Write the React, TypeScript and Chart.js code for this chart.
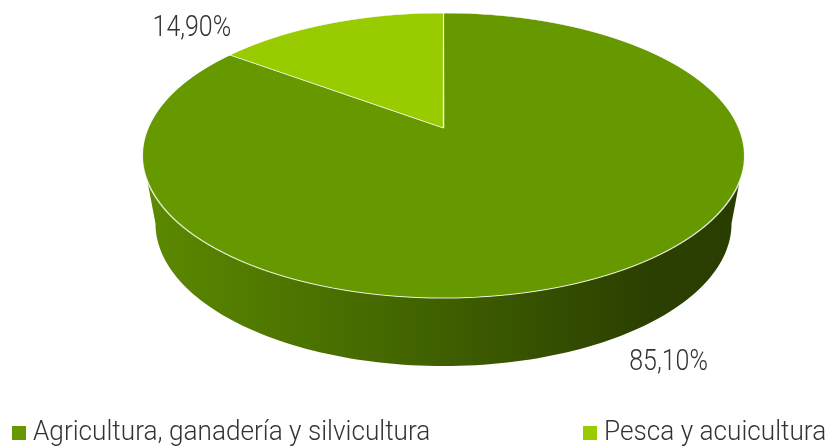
import React, { useEffect, useRef } from 'react';
import { Chart, registerables } from 'chart.js';

Chart.register(...registerables);

// ---- data ----
const categories = ['Agricultura, ganadería y silvicultura', 'Pesca y acuicultura'];
const shares = [85.1, 14.9];
const valueLabels = ['85,10%', '14,90%'];
const sliceColors = ['#669900', '#99cc00'];

// ---- perspective projection of the pie's top face ----
const CX = 443.5;
const PA = 112.5;
const PB = 128;
const PC = -0.193;
const PK = 295.3;
const DEPTH = 68;
const TAPER = 0.957;
const CONDENSE = 0.86;
const LEGEND_CONDENSE = 0.935;
const FONT = '"Roboto", "Noto Sans", sans-serif';

function proj(u: number, v: number): [number, number] {
  const d = 1 + PC * v;
  return [CX + (PK * u) / d, (PA * v + PB) / d];
}
function projBottom(u: number, v: number): [number, number] {
  const [x, y] = proj(u, v);
  return [CX + (x - CX) * TAPER, y + DEPTH];
}
function invY(Y: number) {
  return (Y - PB) / (PA - PC * Y);
}
function shade(hex: string, f: number) {
  const n = parseInt(hex.slice(1), 16);
  const r = Math.round(((n >> 16) & 255) * f);
  const g = Math.round(((n >> 8) & 255) * f);
  const b = Math.round((n & 255) * f);
  return `rgb(${r},${g},${b})`;
}

const pie3d = {
  id: 'pie3d',
  beforeDatasetsDraw(chart: any) {
    const ctx: CanvasRenderingContext2D = chart.ctx;
    const meta = chart.getDatasetMeta(0);
    const arcs = meta.data;
    const phiR = Math.asin(-PC);
    const phiL = Math.PI - phiR;
    const xl = CX - PK / Math.sqrt(1 - PC * PC);
    const xr = CX + PK / Math.sqrt(1 - PC * PC);

    // side wall
    arcs.forEach((arc: any, i: number) => {
      const s = arc.startAngle;
      const e = arc.endAngle;
      const base = sliceColors[i];
      for (let k = -1; k <= 2; k++) {
        const lo = Math.max(s, phiR + 2 * Math.PI * k);
        const hi = Math.min(e, phiL + 2 * Math.PI * k);
        if (lo >= hi) continue;
        const N = 120;
        ctx.save();
        ctx.beginPath();
        for (let j = 0; j <= N; j++) {
          const t = lo + ((hi - lo) * j) / N;
          const [x, y] = proj(Math.cos(t), Math.sin(t));
          if (j === 0) ctx.moveTo(x, y);
          else ctx.lineTo(x, y);
        }
        for (let j = N; j >= 0; j--) {
          const t = lo + ((hi - lo) * j) / N;
          const [x, y] = projBottom(Math.cos(t), Math.sin(t));
          ctx.lineTo(x, y);
        }
        ctx.closePath();
        const g = ctx.createLinearGradient(xl, 0, xr, 0);
        g.addColorStop(0, shade(base, 0.9));
        g.addColorStop(0.5, shade(base, 0.62));
        g.addColorStop(0.84, shade(base, 0.42));
        g.addColorStop(1, shade(base, 0.4));
        ctx.fillStyle = g;
        ctx.fill();
        ctx.restore();
      }
    });

    // top face, drawn row by row by the arc elements under a local transform
    const a0 = arcs[0];
    const ax = a0.x;
    const ay = a0.y;
    const r = a0.outerRadius;
    const [, yTop] = proj(0, -1);
    const [, yBot] = proj(0, 1);
    const W = chart.width;
    for (let y0 = Math.floor(yTop) - 1; y0 <= Math.ceil(yBot) + 1; y0++) {
      const Ym = y0 + 0.5;
      const vm = invY(Ym);
      const d = 1 + PC * vm;
      if (d <= 0) continue;
      const sx = PK / (r * d);
      const sy = (PA - PC * PB) / (d * d * r);
      const e = CX - sx * ax;
      const f = Ym - sy * (ay + r * vm);
      ctx.save();
      ctx.setTransform(1, 0, 0, 1, 0, 0);
      ctx.beginPath();
      ctx.rect(0, y0, W, 1);
      ctx.clip();
      ctx.setTransform(sx, 0, 0, sy, e, f);
      arcs.forEach((arc: any) => arc.draw(ctx));
      ctx.restore();
    }
    return false;
  },
  afterDraw(chart: any) {
    const ctx: CanvasRenderingContext2D = chart.ctx;
    const meta = chart.getDatasetMeta(0);
    // value labels
    const labelOffsets: [number, number][] = [
      [71, 26],
      [-138, 12],
    ];
    ctx.save();
    ctx.font = `300 29px ${FONT}`;
    ctx.fillStyle = '#333333';
    ctx.textAlign = 'center';
    ctx.textBaseline = 'alphabetic';
    meta.data.forEach((arc: any, i: number) => {
      const mid = (arc.startAngle + arc.endAngle) / 2;
      const u = Math.cos(mid);
      const v = Math.sin(mid);
      const [px, py] = v > 0 ? projBottom(u, v) : proj(u, v);
      const x = px + labelOffsets[i][0];
      const y = py + labelOffsets[i][1];
      ctx.save();
      ctx.translate(x, y);
      ctx.scale(CONDENSE, 1);
      ctx.fillText(valueLabels[i], 0, 0);
      ctx.restore();
    });
    // legend
    const legendX = [12, 583];
    const baseY = 440;
    ctx.font = `300 28px ${FONT}`;
    ctx.textAlign = 'left';
    categories.forEach((c, i) => {
      ctx.fillStyle = sliceColors[i];
      ctx.fillRect(legendX[i], baseY - 14, 14, 14);
      ctx.fillStyle = '#333333';
      ctx.save();
      ctx.translate(legendX[i] + 21, baseY);
      ctx.scale(LEGEND_CONDENSE, 1);
      ctx.fillText(c, 0, 0);
      ctx.restore();
    });
    ctx.restore();
  },
};

export default function App() {
  const ref = useRef<HTMLCanvasElement | null>(null);
  useEffect(() => {
    if (!ref.current) return;
    const chart = new Chart(ref.current, {
      type: 'pie',
      data: {
        labels: categories,
        datasets: [
          {
            data: shares,
            backgroundColor: sliceColors,
            borderColor: 'rgba(255,255,255,0.85)',
            borderWidth: 1,
          },
        ],
      },
      options: {
        animation: false,
        responsive: false,
        events: [],
        layout: { padding: 0 },
        plugins: {
          legend: { display: false },
          tooltip: { enabled: false },
        },
      },
      plugins: [pie3d],
    });
    return () => chart.destroy();
  }, []);
  return (
    <div style={{ position: 'fixed', left: 0, top: 0, width: 827, height: 446, background: '#fff' }}>
      <canvas ref={ref} width={827} height={446} style={{ display: 'block' }} />
    </div>
  );
}
